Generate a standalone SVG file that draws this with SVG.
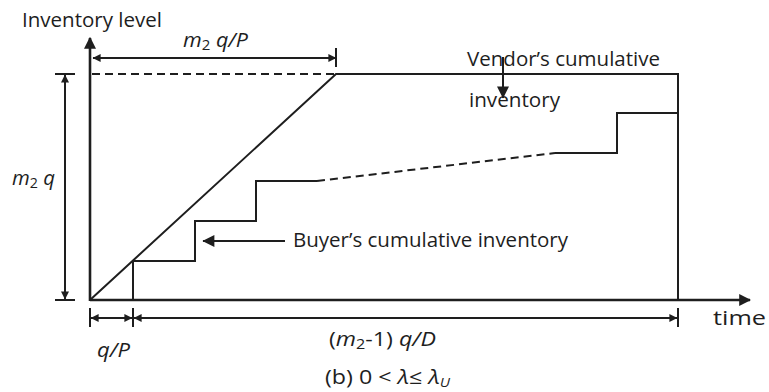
<svg xmlns="http://www.w3.org/2000/svg" width="769" height="392" viewBox="0 0 769 392">
<style>
text{font-family:"Open Sans","Liberation Sans",sans-serif;font-size:20px;fill:#1e1e1e}
.it{font-style:italic}
.ax{stroke:#1e1e1e;stroke-width:2.6;fill:none}
.ln{stroke:#1e1e1e;stroke-width:2;fill:none}
.dash{stroke:#1e1e1e;stroke-width:2;fill:none;stroke-dasharray:8 5}
</style>
<defs>
<marker id="big" viewBox="0 0 10 10" refX="9" refY="5" markerWidth="12" markerHeight="12" markerUnits="userSpaceOnUse" orient="auto"><path d="M0 0L10 5L0 10Z" fill="#1e1e1e"/></marker>
<marker id="sm" viewBox="0 0 10 10" refX="9.5" refY="5" markerWidth="10" markerHeight="8" markerUnits="userSpaceOnUse" orient="auto-start-reverse"><path d="M0 0L10 5L0 10Z" fill="#1e1e1e"/></marker>
<marker id="mid" viewBox="0 0 10 10" refX="9.5" refY="5" markerWidth="14" markerHeight="12" markerUnits="userSpaceOnUse" orient="auto"><path d="M0 0L10 5L0 10Z" fill="#1e1e1e"/></marker>
</defs>
<g id="axes">
<line class="ax" x1="90" y1="301" x2="90" y2="38" marker-end="url(#big)"/>
<line class="ax" x1="90" y1="300" x2="750" y2="300" marker-end="url(#big)"/>
<text x="22" y="27" textLength="140" lengthAdjust="spacingAndGlyphs">Inventory level</text>
<text x="713" y="325" textLength="53" lengthAdjust="spacingAndGlyphs">time</text>
</g>
<g id="vendor">
<line class="dash" x1="92" y1="74" x2="336" y2="74"/>
<polyline class="ln" points="90,300 336,74 678,74 678,300"/>
</g>
<g id="buyer">
<polyline class="ln" points="133,300 133,261 195,261 195,221 256,221 256,181 317,181"/>
<line class="dash" x1="317" y1="181" x2="555" y2="153"/>
<polyline class="ln" points="555,153 617,153 617,113 678,113"/>
</g>
<g id="labels">
<text x="467" y="66" textLength="193" lengthAdjust="spacingAndGlyphs">Vendor’s cumulative</text>
<text x="469" y="107" textLength="91" lengthAdjust="spacingAndGlyphs">inventory</text>
<text x="293" y="247" textLength="275" lengthAdjust="spacingAndGlyphs">Buyer’s cumulative inventory</text>
</g>
<g id="connectors">
<line class="ln" x1="503" y1="57" x2="503" y2="98" marker-end="url(#mid)"/>
<line class="ln" x1="285" y1="241" x2="203" y2="241" marker-end="url(#mid)"/>
<line class="ln" x1="93" y1="58" x2="336" y2="58" marker-start="url(#sm)" marker-end="url(#sm)"/>
<line class="ln" x1="336" y1="48" x2="336" y2="67"/>
<line class="ln" x1="65" y1="75" x2="65" y2="299" marker-start="url(#sm)" marker-end="url(#sm)"/>
<line class="ln" x1="55" y1="74" x2="75" y2="74"/>
<line class="ln" x1="55" y1="300" x2="75" y2="300"/>
<line class="ln" x1="90" y1="308" x2="90" y2="327"/>
<line class="ln" x1="133" y1="308" x2="133" y2="327"/>
<line class="ln" x1="678" y1="308" x2="678" y2="327"/>
<line class="ln" x1="91" y1="318" x2="132" y2="318" marker-start="url(#sm)" marker-end="url(#sm)"/>
<line class="ln" x1="134" y1="318" x2="677" y2="318" marker-start="url(#sm)" marker-end="url(#sm)"/>
</g>
<g id="dimlabels">
<text class="it" x="183" y="47" textLength="65" lengthAdjust="spacingAndGlyphs">m<tspan font-style="normal" font-size="14" dy="3">2</tspan><tspan dy="-3"> q/P</tspan></text>
<text class="it" x="12" y="185" textLength="43" lengthAdjust="spacingAndGlyphs">m<tspan font-style="normal" font-size="14" dy="3">2</tspan><tspan dy="-3"> q</tspan></text>
<text class="it" x="97" y="357" textLength="33" lengthAdjust="spacingAndGlyphs">q/P</text>
<text x="329" y="346" textLength="107" lengthAdjust="spacingAndGlyphs">(<tspan class="it">m</tspan><tspan font-size="14" dy="3">2</tspan><tspan dy="-3">-1) </tspan><tspan class="it">q/D</tspan></text>
<text x="325" y="384" textLength="125" lengthAdjust="spacingAndGlyphs">(b)  0 &lt; <tspan class="it">λ</tspan>≤ <tspan class="it">λ</tspan><tspan class="it" font-size="13" dy="3">U</tspan></text>
</g>
</svg>
